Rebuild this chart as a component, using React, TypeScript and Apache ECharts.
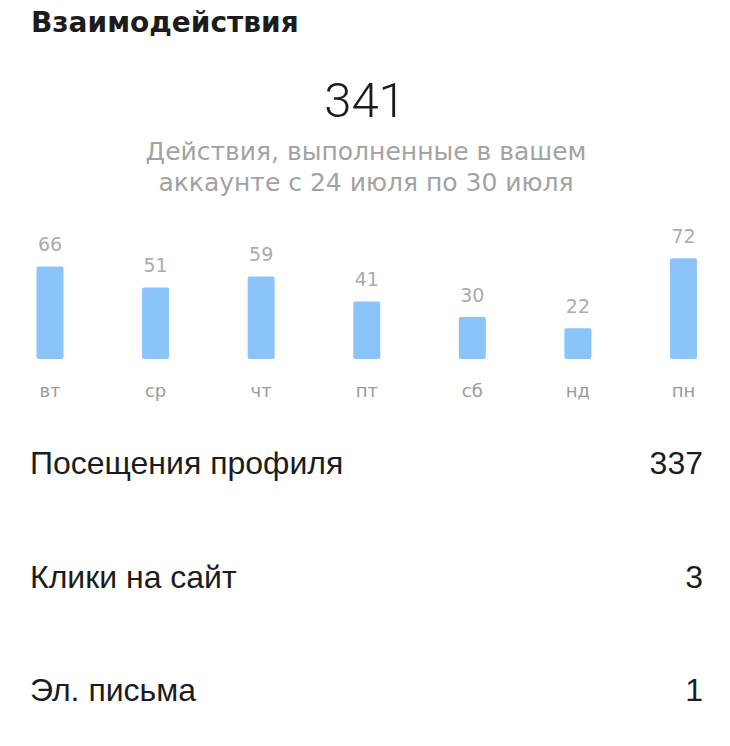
import React, { useEffect, useRef } from "react";
import * as echarts from "echarts";

const heading = "Взаимодействия";
const totalValue = "341";
const subtitleLines = ["Действия, выполненные в вашем", "аккаунте с 24 июля по 30 июля"];
const days = ["вт", "ср", "чт", "пт", "сб", "нд", "пн"];
const dayValues = [66, 51, 59, 41, 30, 22, 72];
const rowLabels = ["Посещения профиля", "Клики на сайт", "Эл. письма"];
const rowValues = ["337", "3", "1"];

const HELV = "'Liberation Sans', Arial, Helvetica, sans-serif";
const WIDE = "'DejaVu Sans', Verdana, sans-serif";

export default function App() {
  const ref = useRef<HTMLDivElement>(null);
  useEffect(() => {
    if (!ref.current) return;
    const chart = echarts.init(ref.current, undefined, { renderer: "svg" });
    const rowY = [463, 577, 690];
    const graphics: any[] = [
      {
        type: "text",
        x: 31,
        y: 22,
        style: { text: heading, fontSize: 28, fontWeight: "bold", fontFamily: WIDE, fill: "#1c1c1c", align: "left", verticalAlign: "middle" },
      },
      {
        type: "text",
        x: 365,
        y: 100,
        style: { text: totalValue, fontSize: 49, fontWeight: 300, fontFamily: "Roboto, " + HELV, fill: "#1c1c1c", align: "center", verticalAlign: "middle" },
      },
    ];
    subtitleLines.forEach((line, i) => {
      graphics.push({
        type: "text",
        x: 366,
        y: 151 + i * 31,
        style: { text: line, fontSize: 25, fontFamily: WIDE, fill: "#a2a2a2", align: "center", verticalAlign: "middle" },
      });
    });
    rowLabels.forEach((lab, i) => {
      graphics.push({
        type: "text",
        x: 30,
        y: rowY[i],
        style: { text: lab, fontSize: 32, fontFamily: HELV, fill: "#1c1c1c", align: "left", verticalAlign: "middle" },
      });
      graphics.push({
        type: "text",
        x: 703,
        y: rowY[i],
        style: { text: rowValues[i], fontSize: 32, fontFamily: HELV, fill: "#1c1c1c", align: "right", verticalAlign: "middle" },
      });
    });
    chart.setOption({
      animation: false,
      backgroundColor: "#ffffff",
      grid: { left: 50, right: 46.5, top: 219, height: 140, containLabel: false },
      xAxis: {
        type: "category",
        data: days,
        boundaryGap: false,
        axisLine: { show: false },
        axisTick: { show: false },
        axisLabel: { color: "#9a9a9a", fontSize: 18, fontFamily: WIDE, margin: 22 },
      },
      yAxis: { type: "value", min: 0, max: 100, show: false, splitLine: { show: false } },
      series: [
        {
          type: "bar",
          data: dayValues,
          barWidth: 27,
          itemStyle: { color: "#8bc4fa", borderRadius: 2 },
          label: {
            show: true,
            position: "top",
            distance: 13,
            color: "#ababab",
            fontSize: 19,
            fontFamily: WIDE,
          },
        },
      ],
      graphic: graphics,
    });
    return () => chart.dispose();
  }, []);
  return <div ref={ref} style={{ position: "fixed", left: 0, top: 0, width: 730, height: 746 }} />;
}
